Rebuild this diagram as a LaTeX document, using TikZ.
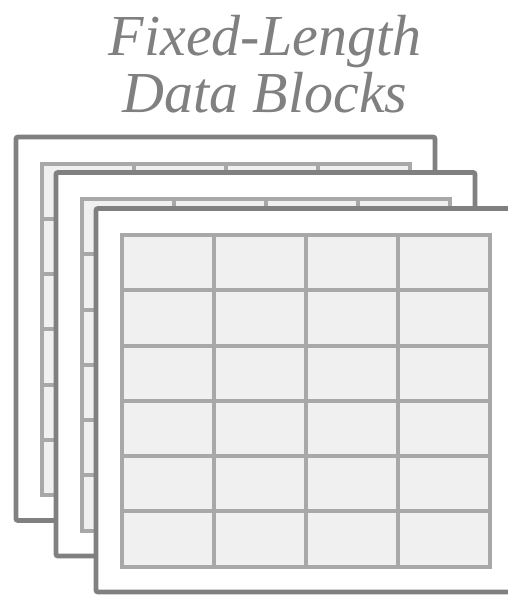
\documentclass[tikz,border=0pt]{standalone}
\usepackage{fontspec}
\setmainfont{Liberation Serif}
\usepackage{tikz}
\usetikzlibrary{positioning,calc}
\definecolor{framegray}{HTML}{808080}
\definecolor{linegray}{HTML}{A8A8A8}
\definecolor{cellfill}{HTML}{F0F0F0}

\begin{document}
\begin{tikzpicture}[
    x=0.5pt, y=-0.5pt,
    frame/.style={draw=framegray, line width=2.4pt, fill=white, rounded corners=1pt},
    cell/.style={draw=linegray, line width=2pt, fill=cellfill},
    title/.style={text=framegray, font=\fontsize{29}{28.5}\selectfont\itshape, align=center}
]
\clip (0,0) rectangle (508,595);
\fill[white] (0,0) rectangle (508,595);
\node[title] (heading) at (265,64) {Fixed-Length\\Data Blocks};
% three stacked blocks, back to front
\foreach \ox/\oy in {16/137, 56/172.5, 96/208.5} {
    \draw[frame] (\ox,\oy) rectangle ++(419,383.5);
    \foreach \c in {0,...,3}
        \foreach \r in {0,...,5}
            \draw[cell] ($(\ox+26+92*\c,\oy+26.5+55.25*\r)$) rectangle ++(92,55.25);
}
\end{tikzpicture}
\end{document}
